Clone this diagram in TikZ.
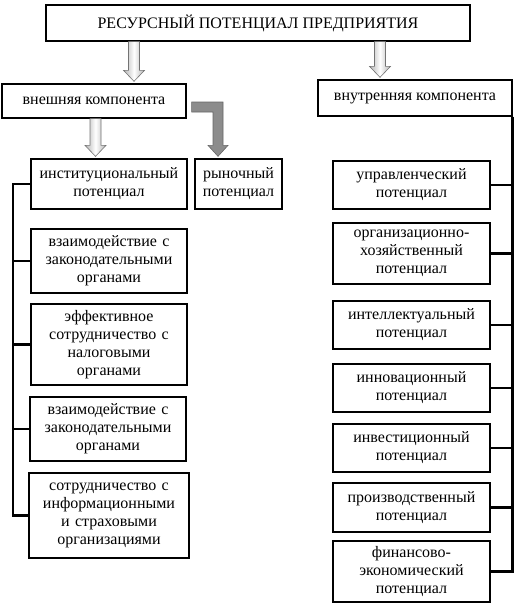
\documentclass[tikz,border=0pt]{standalone}
\usepackage{fontspec}
\setmainfont{Liberation Serif}
\usetikzlibrary{calc}
\tikzset{
  box/.style={draw=black, line width=1.3pt, fill=white, align=center, inner sep=2pt,
    font=\fontsize{16}{18}\selectfont},
  spine/.style={line width=2.5pt, black},
  spineshadow/.style={line width=2.5pt, black!22},
  barrow/.style={draw=black!55, line width=0.6pt, left color=black!30, right color=black!30, middle color=white},
  darrow/.style={draw=black!60, line width=0.6pt, fill=black!45},
}
\begin{document}
\begin{tikzpicture}[x=1pt,y=-1pt]
\useasboundingbox (0,0) rectangle (516,608);
% top
\node[box, minimum width=424pt, minimum height=36pt] (top) at (258,23) {РЕСУРСНЫЙ ПОТЕНЦИАЛ ПРЕДПРИЯТИЯ};
\node[box, minimum width=184pt, minimum height=34pt] (vnesh) at (94,101) {внешняя компонента};
\node[box, minimum width=194pt, minimum height=36pt] (vnutr) at (415,98) {внутренняя компонента};
% left column
\node[box, minimum width=156pt, minimum height=50pt, text width=150pt] (inst) at (109,184) {институциональный\\потенциал};
\node[box, minimum width=87pt, minimum height=50pt, text width=82pt] (ryn) at (238.5,184) {рыночный\\потенциал};
\node[box, minimum width=156pt, minimum height=64pt, text width=150pt] (vz1) at (109,261) {взаимодействие с\\законодательными\\органами};
\node[box, minimum width=156pt, minimum height=81pt, text width=150pt] (eff) at (109,344.5) {эффективное\\сотрудничество с\\налоговыми\\органами};
\node[box, minimum width=156pt, minimum height=64pt, text width=150pt] (vz2) at (108,429) {взаимодействие с\\законодательными\\органами};
\node[box, minimum width=160pt, minimum height=85pt, text width=154pt] (sotr) at (109,515.5) {сотрудничество с\\информационными\\и страховыми\\организациями};
% right column
\node[box, minimum width=157pt, minimum height=48pt, text width=150pt] (upr) at (411.5,185) {управленческий\\потенциал};
\node[box, minimum width=157pt, minimum height=61pt, text width=150pt] (org) at (411.5,253.5) {организационно-\\хозяйственный\\потенциал};
\node[box, minimum width=157pt, minimum height=48pt, text width=150pt] (int) at (411.5,325) {интеллектуальный\\потенциал};
\node[box, minimum width=157pt, minimum height=48pt, text width=150pt] (inn) at (411.5,388) {инновационный\\потенциал};
\node[box, minimum width=157pt, minimum height=48pt, text width=150pt] (inv) at (411.5,448) {инвестиционный\\потенциал};
\node[box, minimum width=157pt, minimum height=49pt, text width=150pt] (pro) at (411.5,507.5) {производственный\\потенциал};
\node[box, minimum width=157pt, minimum height=61pt, text width=150pt] (fin) at (411.5,571.5) {финансово-\\экономический\\потенциал};
% spines
\coordinate (ls) at (13,0);
\coordinate (rs) at (vnutr.south east);
\draw[spineshadow, shift={(1.5,1.5)}] (ls |- inst.west) -- (ls |- sotr.west) -- (sotr.west);
\draw[spineshadow, shift={(1.5,1.5)}] (rs) -- (rs |- fin.east);
\draw[spine] (inst.west) -- (inst.west -| ls) -- (sotr.west -| ls) -- (sotr.west);
\foreach \n in {vz1,eff,vz2} \draw[spine] (\n.west) -- (\n.west -| ls);
\draw[spine] (rs) -- (rs |- fin.east) -- (fin.east);
\foreach \n in {upr,org,int,inn,inv,pro} \draw[spine] (\n.east) -- (\n.east -| rs);
% block arrows
\newcommand\blockarr[3]{%
  \path let \p1=(#2), \p2=(#3) in
   [barrow] (#1pt-5.5pt,\y1) -- (#1pt+5.5pt,\y1) -- (#1pt+5.5pt,\y2+13pt) -- (#1pt+10.5pt,\y2+13pt)
   -- (#1pt,\y2+2pt) -- (#1pt-10.5pt,\y2+13pt) -- (#1pt-5.5pt,\y2+13pt) -- cycle;}
\blockarr{134}{top.south}{vnesh.north}
\blockarr{380}{top.south}{vnutr.north}
\blockarr{95.5}{vnesh.south}{inst.north}
% L-shaped arrow
\path let \p1=(vnesh.east), \p2=(ryn.north) in
  [darrow] (\x1+5pt,102) -- (223,102) -- (223,\y2+13pt) -- (228,\y2+13pt) -- (218,\y2+2pt)
  -- (208,\y2+13pt) -- (213,\y2+13pt) -- (213,112) -- (\x1+5pt,112) -- cycle;
\end{tikzpicture}
\end{document}
